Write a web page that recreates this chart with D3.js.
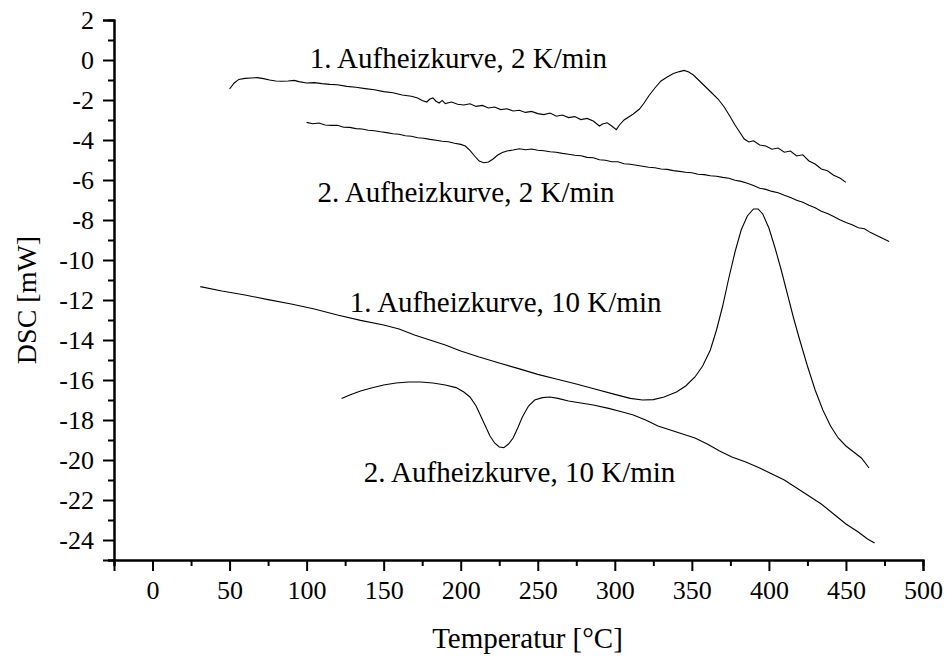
<!DOCTYPE html>
<html>
<head>
<meta charset="utf-8">
<script src="https://cdn.jsdelivr.net/npm/d3@7"></script>
<style>
  body { margin: 0; background: #fff; }
  svg text { font-family: "Liberation Serif", "Times New Roman", serif; fill: #000; }
</style>
</head>
<body>
<svg id="chart" width="949" height="662"></svg>
<script>
// 1. Aufheizkurve, 2 K/min  [T, DSC]
var heat1_2 = [[50,-1.45],[53,-1.15],[56,-0.97],[60,-0.92],[64,-0.90],[68,-0.88],[72,-0.93],[76,-1.00],
  [80,-1.05],[84,-1.06],[88,-1.05],[92,-1.02],[95,-1.08],[100,-1.15],[105,-1.13],[110,-1.18],[115,-1.22],
  [120,-1.24],[126,-1.32],[132,-1.36],[138,-1.43],[144,-1.49],[150,-1.58],[156,-1.64],[162,-1.75],
  [168,-1.81],[172,-1.90],[175,-2.02],[178,-2.10],[180,-1.95],[182,-1.90],[184,-2.06],[186,-2.15],
  [188,-2.02],[190,-2.18],[194,-2.10],[198,-2.21],[202,-2.25],[206,-2.19],[210,-2.32],[214,-2.27],
  [218,-2.40],[222,-2.35],[226,-2.48],[230,-2.44],[234,-2.55],[238,-2.51],[242,-2.62],[246,-2.57],
  [250,-2.68],[254,-2.73],[258,-2.65],[262,-2.81],[266,-2.75],[270,-2.88],[274,-2.83],[278,-2.98],
  [282,-2.92],[286,-3.05],[290,-3.30],[292,-3.20],[295,-3.14],[298,-3.30],[301,-3.48],[303,-3.25],
  [306,-3.00],[309,-2.85],[312,-2.70],[316,-2.45],[319,-2.15],[322,-1.80],[326,-1.40],[330,-1.05],
  [334,-0.85],[338,-0.68],[342,-0.58],[345,-0.52],[348,-0.60],[351,-0.75],[355,-1.05],[359,-1.35],
  [363,-1.65],[367,-1.95],[371,-2.35],[375,-2.85],[378,-3.25],[381,-3.60],[384,-3.95],[387,-4.10],
  [390,-4.04],[394,-4.25],[398,-4.30],[402,-4.46],[406,-4.40],[410,-4.61],[414,-4.55],[418,-4.80],
  [422,-4.74],[426,-5.05],[430,-5.20],[434,-5.45],[438,-5.54],[442,-5.76],[446,-5.90],[450,-6.12]];

// 2. Aufheizkurve, 2 K/min
var heat2_2 = [[100,-3.12],[104,-3.19],[108,-3.15],[112,-3.25],[116,-3.27],[120,-3.26],[124,-3.36],
  [128,-3.37],[132,-3.43],[136,-3.45],[140,-3.51],[144,-3.54],[148,-3.59],[152,-3.63],[156,-3.69],
  [160,-3.71],[164,-3.79],[168,-3.81],[172,-3.89],[176,-3.91],[180,-3.97],[184,-4.01],[188,-4.06],
  [192,-4.09],[196,-4.16],[200,-4.22],[203,-4.30],[206,-4.52],[209,-4.80],[212,-5.05],[215,-5.14],
  [218,-5.10],[221,-4.95],[224,-4.75],[227,-4.62],[230,-4.55],[234,-4.50],[238,-4.44],[242,-4.49],
  [246,-4.45],[250,-4.51],[254,-4.54],[258,-4.59],[262,-4.61],[266,-4.67],[270,-4.71],[274,-4.76],
  [278,-4.79],[282,-4.87],[286,-4.89],[290,-4.99],[294,-5.01],[298,-5.09],[302,-5.09],[306,-5.19],
  [310,-5.21],[314,-5.26],[318,-5.31],[322,-5.36],[326,-5.39],[330,-5.45],[334,-5.47],[338,-5.53],
  [342,-5.57],[346,-5.61],[350,-5.64],[354,-5.71],[358,-5.73],[362,-5.79],[366,-5.81],[370,-5.87],
  [374,-5.91],[378,-6.01],[382,-6.07],[386,-6.16],[390,-6.27],[394,-6.41],[398,-6.47],[402,-6.57],
  [406,-6.64],[410,-6.76],[414,-6.87],[418,-7.01],[422,-7.11],[426,-7.26],[430,-7.39],[434,-7.56],
  [438,-7.67],[442,-7.83],[446,-7.99],[450,-8.13],[454,-8.24],[458,-8.39],[462,-8.44],[466,-8.63],
  [470,-8.77],[474,-8.93],[478,-9.08]];

// 1. Aufheizkurve, 10 K/min
var heat1_10 = [[31,-11.33],[45,-11.55],[60,-11.75],[75,-11.98],[90,-12.2],[105,-12.45],[120,-12.75],
  [135,-13.02],[150,-13.25],[160,-13.45],[170,-13.75],[180,-14.0],[190,-14.25],[200,-14.55],
  [212,-14.85],[225,-15.15],[237,-15.42],[250,-15.72],[262,-15.95],[275,-16.2],[287,-16.45],
  [300,-16.72],[310,-16.92],[318,-17.0],[325,-16.98],[332,-16.85],[340,-16.6],[346,-16.3],
  [352,-15.85],[357,-15.3],[362,-14.5],[366,-13.5],[370,-12.3],[374,-10.9],[378,-9.6],[382,-8.5],
  [386,-7.8],[390,-7.45],[393,-7.45],[396,-7.7],[400,-8.4],[404,-9.4],[408,-10.5],[412,-11.7],
  [416,-12.9],[420,-14.0],[425,-15.3],[430,-16.5],[435,-17.5],[440,-18.3],[445,-18.9],[450,-19.3],
  [455,-19.6],[460,-19.9],[465,-20.4]];

// 2. Aufheizkurve, 10 K/min
var heat2_10 = [[122.7,-16.92],[128,-16.75],[135,-16.55],[142,-16.40],[150,-16.25],[158,-16.15],
  [166,-16.10],[174,-16.10],[182,-16.15],[190,-16.25],[197,-16.38],[202,-16.6],[206,-16.85],
  [210,-17.3],[213,-17.8],[216,-18.3],[219,-18.8],[222,-19.15],[225,-19.35],[228,-19.38],[231,-19.2],
  [234,-18.9],[237,-18.4],[240,-17.85],[244,-17.3],[248,-17.0],[253,-16.88],[258,-16.85],[263,-16.92],
  [270,-17.05],[278,-17.15],[286,-17.25],[296,-17.42],[305,-17.6],[312,-17.75],[320,-18.0],
  [328,-18.3],[336,-18.5],[344,-18.7],[352,-18.9],[360,-19.2],[368,-19.55],[376,-19.85],[385,-20.1],
  [394,-20.4],[402,-20.7],[410,-21.0],[418,-21.4],[426,-21.8],[434,-22.2],[442,-22.7],[450,-23.2],
  [458,-23.6],[464,-23.95],[468.6,-24.15]];

var curves = [heat1_2, heat2_2, heat1_10, heat2_10];

// curve labels: text, [T, DSC] of the left end of the baseline
var labelText = ["1. Aufheizkurve, 2 K/min", "2. Aufheizkurve, 2 K/min",
                 "1. Aufheizkurve, 10 K/min", "2. Aufheizkurve, 10 K/min"];
var labelPos = [[102, -0.4], [107, -7.1], [128, -12.6], [137, -21.1]];

var xMajor = d3.range(0, 501, 50);
var xMinor = d3.range(-25, 500, 50);
var yMajor = d3.range(-24, 3, 2);
var yMinor = d3.range(-25, 2, 2);

var svg = d3.select("#chart");

var x = d3.scaleLinear().domain([-25, 500]).range([114, 923]);
var y = d3.scaleLinear().domain([-25, 2]).range([560, 20]);

function styleAxis(g) {
  g.attr("font-family", null);
  g.select(".domain").attr("stroke", "#000").attr("stroke-width", 2);
  g.selectAll(".tick line").attr("stroke", "#000").attr("stroke-width", 2);
  g.selectAll(".tick text")
    .style("font-family", "'Liberation Serif', 'Times New Roman', serif")
    .style("font-size", "26px").attr("fill", "#000");
}

// minor ticks first, then major with labels
svg.append("g").attr("transform", "translate(0,560)")
  .call(d3.axisBottom(x).tickValues(xMinor).tickSize(6).tickFormat(""))
  .call(styleAxis);
svg.append("g").attr("transform", "translate(0,560)")
  .call(d3.axisBottom(x).tickValues(xMajor).tickSize(11).tickPadding(10).tickFormat(function(d){ return String(d); }))
  .call(styleAxis);

svg.append("g").attr("transform", "translate(114,0)")
  .call(d3.axisLeft(y).tickValues(yMinor).tickSize(6).tickFormat(""))
  .call(styleAxis);
svg.append("g").attr("transform", "translate(114,0)")
  .call(d3.axisLeft(y).tickValues(yMajor).tickSize(11).tickPadding(9).tickFormat(function(d){ return String(d); }))
  .call(styleAxis);

var line = d3.line().x(function(d){ return x(d[0]); }).y(function(d){ return y(d[1]); });

svg.selectAll("path.curve").data(curves).enter().append("path")
  .attr("class", "curve")
  .attr("d", line)
  .attr("fill", "none")
  .attr("stroke", "#000")
  .attr("stroke-width", 1.1);

svg.selectAll("text.lbl").data(labelText).enter().append("text")
  .attr("class", "lbl")
  .attr("x", function(d, i){ return x(labelPos[i][0]); })
  .attr("y", function(d, i){ return y(labelPos[i][1]); })
  .style("font-size", "29px")
  .text(function(d){ return d; });

svg.append("text")
  .attr("x", (x(-25) + x(500)) / 2 + 9)
  .attr("y", 648)
  .attr("text-anchor", "middle")
  .style("font-size", "29px")
  .text("Temperatur [°C]");

svg.append("text")
  .attr("transform", "translate(36," + 300 + ") rotate(-90)")
  .attr("text-anchor", "middle")
  .style("font-size", "28px")
  .text("DSC [mW]");
</script>
</body>
</html>
